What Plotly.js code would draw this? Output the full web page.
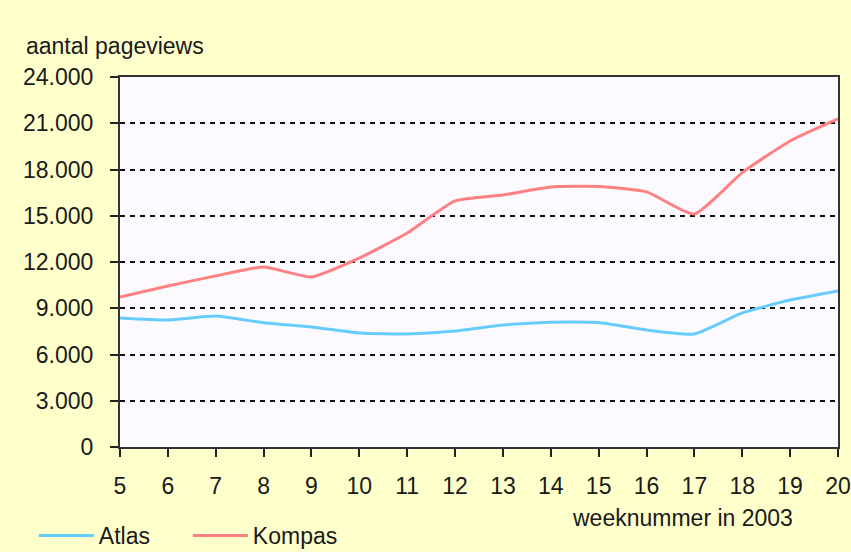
<!DOCTYPE html>
<html>
<head>
<meta charset="utf-8">
<script src="https://cdn.plot.ly/plotly-3.0.1.min.js"></script>
<style>
  html, body { margin: 0; padding: 0; background: #FFFFCC; }
  #plot-area { width: 851px; height: 552px; }
</style>
</head>
<body>
<div id="plot-area"></div>
<script>
// weeks of 2003 and pageviews per week
var weeks = [5, 6, 7, 8, 9, 10, 11, 12, 13, 14, 15, 16, 17, 18, 19, 20];
var atlas = [8370, 8240, 8500, 8060, 7780, 7390, 7330, 7520, 7910, 8100, 8080, 7590, 7330, 8700, 9530, 10120];
var kompas = [9730, 10440, 11100, 11680, 11030, 12260, 13880, 15960, 16350, 16860, 16900, 16550, 15110, 17800, 19850, 21280];

var yTicks = [0, 3000, 6000, 9000, 12000, 15000, 18000, 21000, 24000];
var yTickText = ["0", "3.000", "6.000", "9.000", "12.000", "15.000", "18.000", "21.000", "24.000"];

var FONT = "Liberation Sans, Arial, sans-serif";

function UpdatePlot() {
    var data = [
        {
            x: weeks,
            y: atlas,
            mode: "lines",
            name: "Atlas",
            line: {color: "#66CCFF", width: 3, shape: "spline", smoothing: 0.5}
        },
        {
            x: weeks,
            y: kompas,
            mode: "lines",
            name: "Kompas",
            line: {color: "#FF8080", width: 3, shape: "spline", smoothing: 0.5}
        }
    ];

    var layout = {
        width: 851,
        height: 552,
        paper_bgcolor: "#FFFFCC",
        plot_bgcolor: "#FDFAFF",
        margin: {l: 120, r: 13, t: 77, b: 105, autoexpand: false},
        font: {family: FONT, size: 23, color: "#1a1a1a"},
        showlegend: true,
        legend: {
            orientation: "h",
            x: -0.12, xanchor: "left",
            y: -0.181, yanchor: "top",
            bgcolor: "rgba(0,0,0,0)",
            itemwidth: 55,
            entrywidth: 84,
            font: {family: FONT, size: 23, color: "#1a1a1a"}
        },
        xaxis: {
            range: [5, 20],
            tickvals: weeks,
            ticks: "outside", ticklen: 8, tickwidth: 2, tickcolor: "#222",
            ticklabelstandoff: 9,
            showline: true, linecolor: "#333", linewidth: 2, mirror: true,
            showgrid: false, zeroline: false,
            fixedrange: true
        },
        yaxis: {
            range: [0, 24000],
            tickvals: yTicks, ticktext: yTickText,
            ticks: "outside", ticklen: 8, tickwidth: 2, tickcolor: "#222",
            ticklabelstandoff: 12,
            showline: true, linecolor: "#333", linewidth: 2, mirror: true,
            showgrid: true, gridcolor: "#111", gridwidth: 2, griddash: "5px,5px",
            zeroline: false,
            fixedrange: true
        },
        annotations: [
            {text: "aantal pageviews", xref: "paper", yref: "paper", x: -0.134, y: 1.0, xanchor: "left", yanchor: "bottom", yshift: 16, showarrow: false, font: {family: FONT, size: 23, color: "#1a1a1a"}},
            {text: "weeknummer in 2003", xref: "paper", yref: "paper", x: 0.94, y: 0, xanchor: "right", yanchor: "top", yshift: -56, showarrow: false, font: {family: FONT, size: 23, color: "#1a1a1a"}}
        ]
    };

    Plotly.newPlot("plot-area", data, layout, {displayModeBar: false, staticPlot: true});
}

UpdatePlot();
</script>
</body>
</html>
